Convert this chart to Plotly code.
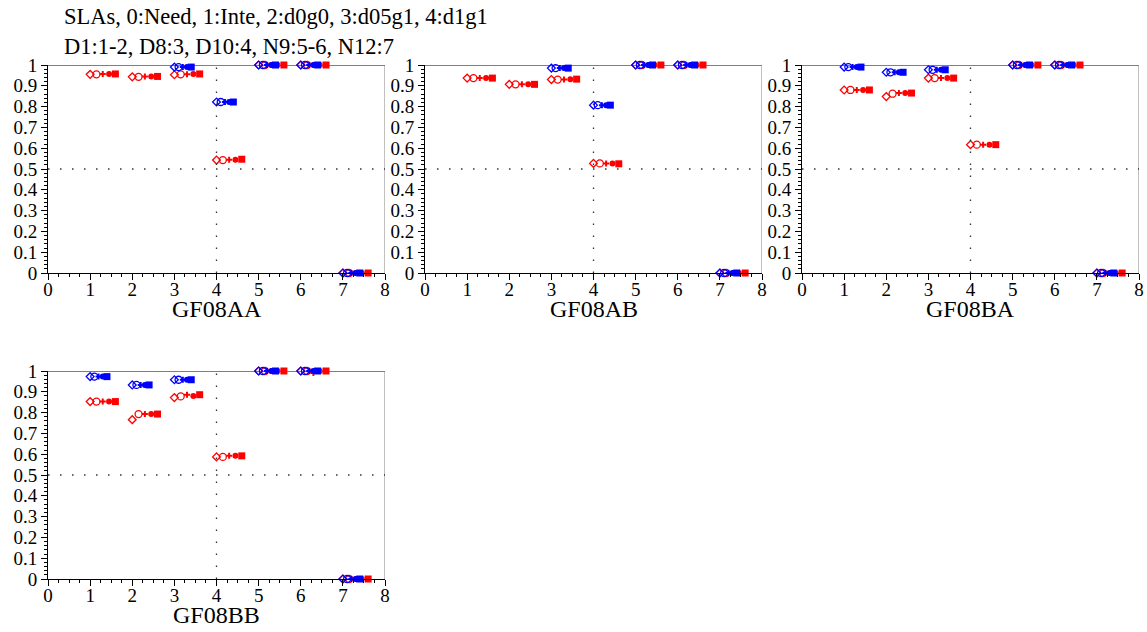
import plotly.graph_objects as go

panels = ["GF08AA", "GF08AB", "GF08BA", "GF08BB"]
groups = [1, 2, 3, 4, 5, 6, 7]
red_offsets = [0.0, 0.15, 0.3, 0.45, 0.6]
blue_offsets = [0.0, 0.1, 0.2, 0.3, 0.4]

N = None
red_AA = [[0.955, 0.955, 0.957, 0.957, 0.957], [0.943, 0.943, 0.945, 0.945, 0.945],
          [0.953, 0.955, 0.955, 0.957, 0.957], [0.543, 0.543, 0.545, 0.545, 0.547],
          [1, 1, 1, 1, 1], [1, 1, 1, 1, 1], [0, 0, 0, 0, 0]]
blue_AA = [[N] * 5, [N] * 5, [0.99, 0.99, 0.99, 0.99, 0.99], [0.822, 0.822, 0.822, 0.822, 0.822],
           [1, 1, 1, 1, 1], [1, 1, 1, 1, 1], [0, 0, 0, 0, 0]]
red_AB = [[0.937, 0.937, 0.937, 0.937, 0.937], [0.907, 0.907, 0.907, 0.907, 0.907],
          [0.930, 0.930, 0.930, 0.932, 0.932], [0.527, 0.527, 0.527, 0.527, 0.525],
          [1, 1, 1, 1, 1], [1, 1, 1, 1, 1], [0, 0, 0, 0, 0]]
blue_AB = [[N] * 5, [N] * 5, [0.985, 0.985, 0.985, 0.985, 0.985], [0.807, 0.807, 0.807, 0.807, 0.807],
           [1, 1, 1, 1, 1], [1, 1, 1, 1, 1], [0, 0, 0, 0, 0]]
red_BA = [[0.880, 0.880, 0.880, 0.880, 0.880], [0.848, 0.862, 0.865, 0.865, 0.865],
          [0.937, 0.937, 0.937, 0.937, 0.937], [0.617, 0.617, 0.617, 0.617, 0.617],
          [1, 1, 1, 1, 1], [1, 1, 1, 1, 1], [0, 0, 0, 0, 0]]
blue_BA = [[0.99, 0.99, 0.99, 0.99, 0.99], [0.965, 0.965, 0.965, 0.965, 0.965],
           [0.977, 0.977, 0.977, 0.977, 0.977], [N] * 5,
           [1, 1, 1, 1, 1], [1, 1, 1, 1, 1], [0, 0, 0, 0, 0]]
red_BB = [[0.853, 0.853, 0.853, 0.853, 0.853], [0.766, 0.793, 0.793, 0.793, 0.793],
          [0.872, 0.878, 0.886, 0.880, 0.886], [0.587, 0.587, 0.592, 0.592, 0.592],
          [1, 1, 1, 1, 1], [1, 1, 0.99, 1, 1], [0, 0, 0, 0, 0]]
blue_BB = [[0.973, 0.973, 0.973, 0.973, 0.973], [0.933, 0.933, 0.933, 0.933, 0.933],
           [0.958, 0.958, 0.958, 0.958, 0.958], [N] * 5,
           [1, 1, 1, 1, 1], [1, 1, 1, 1, 1], [0, 0, 0, 0, 0]]

red_data = [red_AA, red_AB, red_BA, red_BB]
blue_data = [blue_AA, blue_AB, blue_BA, blue_BB]

symbols = ["diamond-open", "circle-open", "cross", "circle", "square"]
red_sizes = [6, 7, 5, 6, 7]
blue_sizes = [6, 7, 5, 6, 7]

W, H = 1147, 632
xdoms = [(48, 385), (425, 762), (802, 1139)]
ydoms = [(65, 273), (371, 579)]
FONT = "Liberation Serif"

fig = go.Figure()
layout = dict(width=W, height=H, margin=dict(l=0, r=0, t=0, b=0, autoexpand=False),
              paper_bgcolor="white", plot_bgcolor="white", showlegend=False,
              font=dict(family=FONT, size=18, color="black"))
shapes = []
annotations = []

for p, name in enumerate(panels):
    row, col = divmod(p, 3)
    x0, x1 = xdoms[col]
    yt, yb = ydoms[row]
    xd = [x0 / W, x1 / W]
    yd = [1 - yb / H, 1 - yt / H]
    xa = "xaxis" if p == 0 else f"xaxis{p+1}"
    ya = "yaxis" if p == 0 else f"yaxis{p+1}"
    xr = "x" if p == 0 else f"x{p+1}"
    yr = "y" if p == 0 else f"y{p+1}"
    layout[xa] = dict(domain=xd, anchor=yr, range=[0, 8], tickmode="linear", tick0=0, dtick=1,
                      automargin=False, ticklabelstandoff=-7,
                      showgrid=False, zeroline=False, showline=True, linecolor="black", linewidth=1,
                      ticks="outside", ticklen=6, tickcolor="black",
                      minor=dict(ticks="outside", ticklen=3, dtick=0.25, tickcolor="black"),
                      tickfont=dict(family=FONT, size=19))
    layout[ya] = dict(domain=yd, anchor=xr, range=[0, 1], tickmode="linear", tick0=0, dtick=0.1,
                      automargin=False,
                      showgrid=False, zeroline=False, showline=True, linecolor="black", linewidth=1,
                      ticks="outside", ticklen=6, tickcolor="black",
                      minor=dict(ticks="outside", ticklen=3, dtick=0.02, tickcolor="black"),
                      tickfont=dict(family=FONT, size=19), tickformat="~g")
    # reference lines
    shapes.append(dict(type="line", xref=xr, yref=yr, x0=0, x1=8, y0=0.5, y1=0.5,
                       line=dict(color="#333", width=1.3, dash="1.5px,10.5px")))
    shapes.append(dict(type="line", xref=xr, yref=yr, x0=4, x1=4, y0=0, y1=1,
                       line=dict(color="#333", width=1.3, dash="1.5px,10.5px")))
    # top and right box lines
    shapes.append(dict(type="line", xref=xr, yref=yr, x0=0, x1=8, y0=1, y1=1,
                       line=dict(color="#808080", width=2), layer="below"))
    shapes.append(dict(type="line", xref=xr, yref=yr, x0=8, x1=8, y0=0, y1=1,
                       line=dict(color="#808080", width=1), layer="below"))
    annotations.append(dict(text=name, xref="paper", yref="paper", x=(x0 + x1) / 2 / W,
                            y=1 - (yb + 36) / H, xanchor="center", yanchor="middle",
                            showarrow=False, font=dict(family=FONT, size=24)))
    for series, offs, color, sizes in ((red_data[p], red_offsets, "red", red_sizes),
                                       (blue_data[p], blue_offsets, "blue", blue_sizes)):
        for k in range(5):
            xs = [g + offs[k] for g in groups]
            ys = [series[i][k] for i in range(len(groups))]
            fig.add_trace(go.Scatter(x=xs, y=ys, mode="markers", xaxis=xr, yaxis=yr,
                                     cliponaxis=False,
                                     marker=dict(symbol=symbols[k], size=sizes[k], color=color,
                                                 line=dict(color=color, width=1.3 if "open" in symbols[k] else 0))))

annotations.append(dict(text="SLAs, 0:Need, 1:Inte, 2:d0g0, 3:d05g1, 4:d1g1", xref="paper", yref="paper",
                        x=62 / W, y=1 - 16 / H, xanchor="left", yanchor="middle", showarrow=False,
                        font=dict(family=FONT, size=22.5)))
annotations.append(dict(text="D1:1-2, D8:3, D10:4, N9:5-6, N12:7", xref="paper", yref="paper",
                        x=62 / W, y=1 - 47 / H, xanchor="left", yanchor="middle", showarrow=False,
                        font=dict(family=FONT, size=22.5)))
layout["shapes"] = shapes
layout["annotations"] = annotations
fig.update_layout(**layout)
fig.write_html("out.html")
